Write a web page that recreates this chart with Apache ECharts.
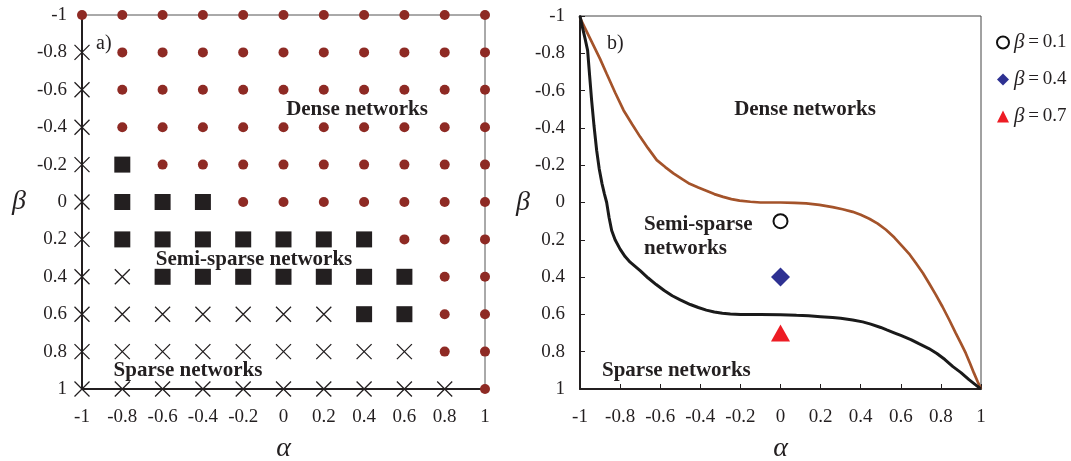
<!DOCTYPE html>
<html>
<head>
<meta charset="utf-8">
<script src="https://cdn.jsdelivr.net/npm/echarts@6/dist/echarts.min.js"></script>
<style>
  html, body { margin: 0; padding: 0; background: #fff; }
  #chart { width: 1071px; height: 461px; }
</style>
</head>
<body>
<div id="chart"></div>
<script>
// Grid of sampled (alpha, beta) pairs for panel a)
const alphaLevels = [-1, -0.8, -0.6, -0.4, -0.2, 0, 0.2, 0.4, 0.6, 0.8, 1];
const betaLevels  = [-1, -0.8, -0.6, -0.4, -0.2, 0, 0.2, 0.4, 0.6, 0.8, 1];
// One string per beta row, one letter per alpha column:
// D = dense, M = semi-sparse, S = sparse
const regimeRows = [
  'DDDDDDDDDDD',
  'SDDDDDDDDDD',
  'SDDDDDDDDDD',
  'SDDDDDDDDDD',
  'SMDDDDDDDDD',
  'SMMMDDDDDDD',
  'SMMMMMMMDDD',
  'SSMMMMMMMDD',
  'SSSSSSSMMDD',
  'SSSSSSSSSDD',
  'SSSSSSSSSSD'
];

// Panel b) boundary curves, [alpha, beta]
const sparseBoundary = [
  [-1, -1], [-0.988, -0.94], [-0.975, -0.88], [-0.962, -0.816], [-0.952, -0.68],
  [-0.942, -0.548], [-0.93, -0.41], [-0.917, -0.28], [-0.904, -0.18], [-0.89, -0.1],
  [-0.878, -0.045], [-0.867, 0], [-0.855, 0.08], [-0.842, 0.15], [-0.825, 0.2],
  [-0.8, 0.25], [-0.775, 0.29], [-0.75, 0.32], [-0.7, 0.365], [-0.66, 0.405],
  [-0.62, 0.44], [-0.58, 0.472], [-0.54, 0.5], [-0.5, 0.522], [-0.45, 0.547],
  [-0.41, 0.563], [-0.37, 0.577], [-0.33, 0.587], [-0.29, 0.594], [-0.25, 0.598],
  [-0.2, 0.6], [-0.1, 0.6], [0, 0.602], [0.08, 0.605], [0.14, 0.607],
  [0.2, 0.612], [0.26, 0.617], [0.3, 0.621], [0.36, 0.63], [0.41, 0.64],
  [0.45, 0.652], [0.5, 0.67], [0.53, 0.683], [0.57, 0.7], [0.6, 0.713],
  [0.65, 0.735], [0.69, 0.757], [0.74, 0.783], [0.78, 0.81], [0.82, 0.842],
  [0.86, 0.88], [0.9, 0.912], [0.94, 0.95], [0.97, 0.975], [1, 1]
];
const denseBoundary = [
  [-1, -0.99], [-0.975, -0.935], [-0.95, -0.88], [-0.925, -0.825], [-0.9, -0.77],
  [-0.867, -0.69], [-0.825, -0.59], [-0.783, -0.495], [-0.74, -0.42], [-0.7, -0.352],
  [-0.66, -0.29], [-0.617, -0.227], [-0.575, -0.19], [-0.534, -0.156], [-0.49, -0.125],
  [-0.453, -0.1], [-0.41, -0.08], [-0.37, -0.063], [-0.33, -0.045], [-0.286, -0.03],
  [-0.245, -0.018], [-0.204, -0.01], [-0.15, -0.004], [-0.1, 0], [0, 0],
  [0.07, 0.002], [0.128, 0.005], [0.194, 0.013], [0.26, 0.025], [0.31, 0.036],
  [0.36, 0.05], [0.4, 0.066], [0.443, 0.087], [0.485, 0.113], [0.526, 0.146],
  [0.568, 0.188], [0.609, 0.237], [0.645, 0.28], [0.676, 0.326], [0.71, 0.378],
  [0.741, 0.433], [0.775, 0.495], [0.808, 0.559], [0.842, 0.63], [0.874, 0.7],
  [0.9, 0.755], [0.924, 0.808], [0.945, 0.862], [0.965, 0.915], [0.983, 0.96], [1, 1]
];

// Panel b) sample points
const sampleNames = ['β\u2009=\u20090.1', 'β\u2009=\u20090.4', 'β\u2009=\u20090.7'];
const sampleAlpha = [0, 0, 0];
const sampleBeta  = [0.1, 0.4, 0.7];

const FONT = 'Liberation Serif';
const INK = '#231f20';

function pointsOf(code) {
  const out = [];
  regimeRows.forEach((row, r) => {
    for (let c = 0; c < row.length; c++) {
      if (row[c] === code) out.push([alphaLevels[c], betaLevels[r]]);
    }
  });
  return out;
}

const fmt = v => String(Math.round(v * 10) / 10);

function xAxisFor(gridIndex, withTicks) {
  return {
    gridIndex, type: 'value', min: -1, max: 1, interval: 0.2,
    name: 'α', nameLocation: 'middle', nameGap: 46,
    nameTextStyle: { fontFamily: FONT, fontStyle: 'italic', fontSize: 28, color: INK },
    axisLine: { show: true, onZero: false, lineStyle: { color: INK, width: 2 } },
    axisTick: { show: withTicks, inside: true, length: 5, lineStyle: { color: INK, width: 1 } },
    axisLabel: { fontFamily: FONT, fontSize: 19, color: INK, margin: 19, formatter: fmt },
    splitLine: { show: false }
  };
}
function yAxisFor(gridIndex, withTicks, nameGap) {
  return {
    gridIndex, type: 'value', min: -1, max: 1, interval: 0.2, inverse: true,
    name: 'β', nameLocation: 'middle', nameGap, nameRotate: 0,
    nameTextStyle: { fontFamily: FONT, fontStyle: 'italic', fontSize: 28, color: INK },
    axisLine: { show: true, onZero: false, lineStyle: { color: INK, width: 2 } },
    axisTick: { show: withTicks, inside: true, length: 5, lineStyle: { color: INK, width: 1 } },
    axisLabel: { fontFamily: FONT, fontSize: 19, color: INK, margin: 15, formatter: fmt },
    splitLine: { show: false }
  };
}

function note(text, x, y, bold, size) {
  return {
    type: 'text', x, y, silent: true,
    style: {
      text, fill: INK, align: 'center', verticalAlign: 'middle',
      font: (bold ? 'bold ' : '') + size + 'px "' + FONT + '"'
    }
  };
}
function noteLeft(text, x, y, bold, size) {
  const n = note(text, x, y, bold, size);
  n.style.align = 'left';
  return n;
}

const chart = echarts.init(document.getElementById('chart'), null, { renderer: 'canvas' });

chart.setOption({
  animation: false,
  backgroundColor: '#fff',
  grid: [
    { left: 82, top: 15, width: 403, height: 374, show: true, borderColor: '#555', borderWidth: 1,
      backgroundColor: 'transparent', containLabel: false, outerBoundsMode: 'none' },
    { left: 580, top: 16, width: 401, height: 373, show: true, borderColor: '#444', borderWidth: 1,
      backgroundColor: 'transparent', containLabel: false, outerBoundsMode: 'none' }
  ],
  xAxis: [xAxisFor(0, false), xAxisFor(1, true)],
  yAxis: [yAxisFor(0, false, 56), yAxisFor(1, true, 37)],
  legend: {
    orient: 'vertical', left: 991, top: 27,
    itemWidth: 12, itemHeight: 12, itemGap: 16,
    data: [
      { name: sampleNames[0], icon: 'emptyCircle', itemStyle: { borderWidth: 1.4 } },
      { name: sampleNames[1] },
      { name: sampleNames[2] }
    ],
    formatter: name => '{b|β}' + name.slice(1),
    textStyle: {
      fontFamily: FONT, fontSize: 19, color: INK, lineHeight: 20,
      rich: { b: { fontFamily: FONT, fontStyle: 'italic', fontSize: 21, color: INK } }
    }
  },
  series: [
    {
      name: 'dense', type: 'scatter', xAxisIndex: 0, yAxisIndex: 0, clip: false,
      symbol: 'circle', symbolSize: 10,
      itemStyle: { color: '#8e2a24', opacity: 1 },
      data: pointsOf('D')
    },
    {
      name: 'semi-sparse', type: 'scatter', xAxisIndex: 0, yAxisIndex: 0, clip: false,
      symbol: 'rect', symbolSize: 16,
      itemStyle: { color: INK, opacity: 1 },
      data: pointsOf('M')
    },
    {
      name: 'sparse', type: 'scatter', xAxisIndex: 0, yAxisIndex: 0, clip: false,
      symbol: 'path://M0,0L10,10M10,0L0,10', symbolSize: 15,
      itemStyle: { color: 'transparent', borderColor: INK, borderWidth: 1.3, opacity: 1 },
      data: pointsOf('S')
    },
    {
      name: 'dense boundary', type: 'line', xAxisIndex: 1, yAxisIndex: 1,
      showSymbol: false, smooth: false,
      lineStyle: { color: '#a4532a', width: 2.7 },
      data: denseBoundary
    },
    {
      name: 'sparse boundary', type: 'line', xAxisIndex: 1, yAxisIndex: 1,
      showSymbol: false, smooth: false,
      lineStyle: { color: '#1a1a1a', width: 3 },
      data: sparseBoundary
    },
    {
      name: sampleNames[0], type: 'scatter', xAxisIndex: 1, yAxisIndex: 1,
      symbol: 'emptyCircle', symbolSize: 14,
      itemStyle: { color: '#111', borderColor: '#111', borderWidth: 1.6, opacity: 1 },
      data: [[sampleAlpha[0], sampleBeta[0]]]
    },
    {
      name: sampleNames[1], type: 'scatter', xAxisIndex: 1, yAxisIndex: 1,
      symbol: 'diamond', symbolSize: [19, 19],
      itemStyle: { color: '#2e3192', opacity: 1 },
      data: [[sampleAlpha[1], sampleBeta[1]]]
    },
    {
      name: sampleNames[2], type: 'scatter', xAxisIndex: 1, yAxisIndex: 1,
      symbol: 'triangle', symbolSize: [19, 17],
      itemStyle: { color: '#ed1c24', opacity: 1 },
      data: [[sampleAlpha[2], sampleBeta[2]]]
    }
  ],
  graphic: [
    noteLeft('a)', 96, 44, false, 20),
    note('Dense networks', 357, 110, true, 21),
    note('Semi-sparse networks', 254, 260, true, 21),
    note('Sparse networks', 188, 371, true, 21),
    noteLeft('b)', 607, 44, false, 20),
    note('Dense networks', 805, 110, true, 21),
    noteLeft('Semi-sparse', 644, 225, true, 21),
    noteLeft('networks', 644, 249, true, 21),
    noteLeft('Sparse networks', 602, 371, true, 21)
  ]
});
</script>
</body>
</html>
